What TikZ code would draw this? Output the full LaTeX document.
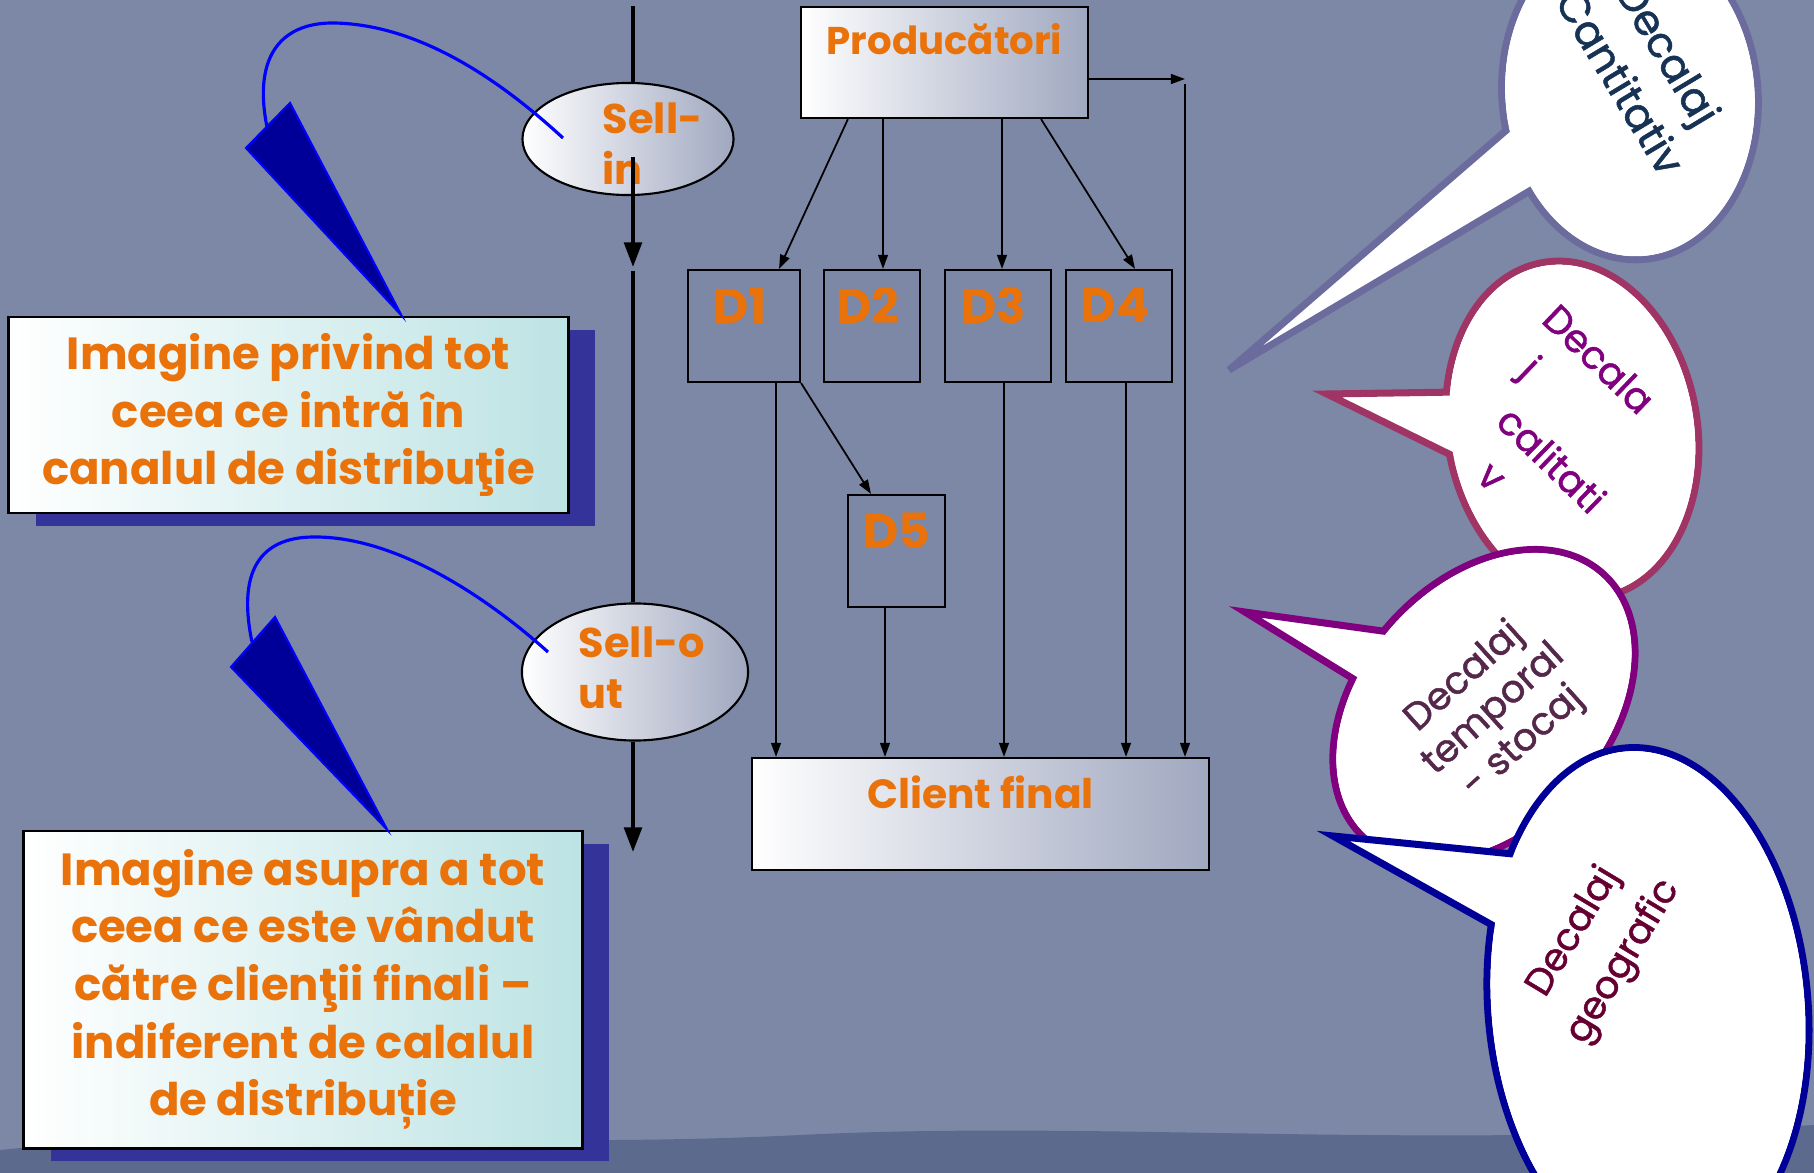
\documentclass[tikz,border=0pt]{standalone}
\usepackage{fontspec}
\setmainfont{Poppins}
\newfontfamily\bubfont{Poppins}[FakeBold=1.2]
\usetikzlibrary{positioning,calc,arrows.meta,shadows,shapes.geometric}

\definecolor{slate}{RGB}{124,136,165}
\definecolor{slatedark}{RGB}{78,94,132}
\definecolor{lblorange}{RGB}{234,114,10}
\definecolor{shadowblue}{RGB}{51,51,153}
\definecolor{boxcyan}{RGB}{189,227,228}
\definecolor{ovalgray}{RGB}{160,168,192}
\definecolor{wedgeblue}{RGB}{0,0,153}
\definecolor{bubA}{RGB}{107,107,158}
\definecolor{bubB}{RGB}{160,52,100}
\definecolor{bubC}{RGB}{128,0,128}
\definecolor{bubD}{RGB}{0,0,153}
\definecolor{txtA}{RGB}{22,50,85}
\definecolor{txtB}{RGB}{128,0,128}
\definecolor{txtC}{RGB}{85,40,75}
\definecolor{txtD}{RGB}{102,0,51}

\begin{document}
\begin{tikzpicture}[x=0.01cm,y=-0.01cm,
  lbl/.style={text=lblorange,font=\bfseries\fontsize{13.8}{16}\selectfont,inner sep=0pt},
  ovaltxt/.style={lbl,font=\bfseries\fontsize{11.8}{14.5}\selectfont,align=left,anchor=west},
  grbox/.style={draw,line width=0.6pt,left color=white,right color=ovalgray,inner sep=0pt},
  dbox/.style={draw,line width=0.6pt,inner sep=0pt,minimum height=1.12cm},
  oval/.style={ellipse,draw,line width=0.6pt,left color=white,right color=ovalgray,inner sep=0pt},
  notebox/.style={draw,line width=0.8pt,left color=white,right color=boxcyan,align=center,inner sep=0pt,
    text=lblorange,font=\bfseries\fontsize{12.8}{16.4}\selectfont,
    drop shadow={shadow xshift=0.27cm,shadow yshift=-0.13cm,fill=shadowblue,opacity=1}},
  mainln/.style={line width=1.1pt},
  bigtip/.style={-{Triangle[length=7pt,width=5pt]}},
  con/.style={line width=0.5pt,-{Triangle[length=4pt,width=2.8pt]}},
  wedge/.style={fill=wedgeblue,draw=blue,line width=0.6pt,line join=miter},
  curl/.style={blue,line width=0.9pt},
  bubble/.style={fill=white,line width=2pt},
  btxt/.style={font=\bubfont\fontsize{12}{16}\selectfont,align=center,inner sep=0pt}]

\useasboundingbox (0,0) rectangle (1814,1173);
\fill[slate] (0,0) rectangle (1814,1173);
\fill[slatedark,opacity=.7] (0,1173) -- (0,1150) .. controls (250,1125) and (500,1150) .. (800,1135)
  .. controls (1100,1120) and (1400,1150) .. (1814,1125) -- (1814,1173) -- cycle;
\clip (0,0) rectangle (1814,1173);

% notes on the left
\node[notebox,minimum width=5.59cm,minimum height=1.96cm] (note1) at (288.5,415)
  {Imagine privind tot\\ceea ce intră în\\canalul de distribuţie};
\node[notebox,minimum width=5.58cm,minimum height=3.17cm] (note2) at (303,989.5)
  {Imagine asupra a tot\\ceea ce este vândut\\către clienţii finali –\\indiferent de calalul\\de distribuție};

% sell-in / sell-out line
\node[oval,minimum width=2.11cm,minimum height=1.12cm] (sellin) at (628,139) {};
\node[oval,minimum width=2.26cm,minimum height=1.37cm] (sellout) at (635,672) {};
\node[ovaltxt] (sellintxt) at (602,144) {Sell-\\in};
\node[ovaltxt] (sellouttxt) at (578,668) {Sell-o\\ut};

\coordinate (topend) at (633,6);
\coordinate (instart) at (633,157);
\coordinate (midtip) at (633,267);
\coordinate (midstart) at (633,271);
\coordinate (bottip) at (633,852);
\draw[mainln] (topend) -- (topend |- sellin.north);
\draw[mainln,bigtip] (instart) -- (midtip);
\draw[mainln] (midstart) -- (midstart |- sellout.north);
\draw[mainln,bigtip] (bottip |- sellout.south) -- (bottip);

% pointers
\coordinate (w1a) at (246,148);
\coordinate (w1b) at (290,103);
\coordinate (w1hook) at (267,127);
\coordinate (w1end) at (563,138);
\filldraw[wedge] (w1a) -- (w1b) -- ([xshift=1.13cm]note1.north) -- cycle;
\draw[curl] (w1hook) .. controls (252,52) and (285,22) .. (335,23) .. controls (420,25) and (500,80) .. (w1end);

\coordinate (w2a) at (231,667);
\coordinate (w2b) at (275,617);
\coordinate (w2hook) at (252,642);
\coordinate (w2end) at (548,652);
\filldraw[wedge] (w2a) -- (w2b) -- ([xshift=0.84cm]note2.north) -- cycle;
\draw[curl] (w2hook) .. controls (236,565) and (265,536) .. (317,537) .. controls (400,538) and (490,600) .. (w2end);

% channel
\node[grbox,minimum width=2.87cm,minimum height=1.11cm] (prod) at (944.5,62.5) {};
\node[lbl,font=\bfseries\fontsize{11}{13}\selectfont,below=0.17cm of prod.north] (prodtxt) {Producători};
\foreach \n/\x/\w in {1/744/1.12, 2/872/0.96, 3/998/1.06, 4/1119/1.06} {
  \node[dbox,minimum width=\w cm] (d\n) at (\x,326) {};
  \node[lbl,below=0.18cm of d\n.north,xshift=-0.04cm] (d\n txt) {D\n};
}
\node[dbox,minimum width=0.97cm] (d5) at (896.5,551) {};
\node[lbl,below=0.18cm of d5.north] (d5txt) {D5};
\node[grbox,minimum width=4.57cm,minimum height=1.12cm] (client) at (980.5,814) {};
\node[lbl,font=\bfseries\fontsize{11.6}{13}\selectfont,below=0.18cm of client.north] (clienttxt) {Client final};

\draw[con] ([xshift=-0.965cm]prod.south) -- ([xshift=0.35cm]d1.north);
\draw[con] ([xshift=-0.615cm]prod.south) -- ([xshift=0.11cm]d2.north);
\draw[con] ([xshift=0.575cm]prod.south) -- ([xshift=0.04cm]d3.north);
\draw[con] ([xshift=0.965cm]prod.south) -- ([xshift=0.16cm]d4.north);
\coordinate (side) at (1185,79);
\draw[con] (prod.east |- side) -- (side);
\draw[con] ([yshift=-0.05cm]side) -- (side |- client.north);
\draw[con] ([xshift=0.32cm]d1.south) -- ([xshift=0.32cm]d1.south |- client.north);
\draw[con] (d1.south east) -- ([xshift=-0.255cm]d5.north);
\draw[con] ([xshift=-0.115cm]d5.south) -- ([xshift=-0.115cm]d5.south |- client.north);
\draw[con] ([xshift=0.06cm]d3.south) -- ([xshift=0.06cm]d3.south |- client.north);
\draw[con] ([xshift=0.07cm]d4.south) -- ([xshift=0.07cm]d4.south |- client.north);

% callouts on the right
\coordinate (c1) at (1630,95);
\coordinate (t1) at (1229,370);
\filldraw[bubble,draw=bubA,rotate around={5:(c1)}] (c1) ellipse [x radius=128,y radius=165];
\filldraw[bubble,draw=bubA] (t1) -- ($(t1)!1.35!(1517,121)$) -- ($(t1)!1.35!(1548,180)$) -- cycle;
\fill[white,rotate around={5:(c1)}] (c1) ellipse [x radius=124.5,y radius=161.5];
\node[btxt,text=txtA,rotate=-59] (b1txt) at (1645,67) {Decalaj\\Cantitativ};

\coordinate (c2) at (1572,430);
\coordinate (t2) at (1327,394);
\filldraw[bubble,draw=bubB,rotate around={10:(c2)}] (c2) ellipse [x radius=125,y radius=170];
\filldraw[bubble,draw=bubB] (t2) -- ($(t2)!1.4!(1458,392)$) -- ($(t2)!1.4!(1453,456)$) -- cycle;
\fill[white,rotate around={10:(c2)}] (c2) ellipse [x radius=121.5,y radius=166.5];
\node[btxt,text=txtB,rotate=-44,align=left,anchor=north west,font=\bubfont\fontsize{11}{15}\selectfont] (b2txt) at (1560,300)
  {Decala\\\hspace*{0.2cm}j\\\hspace*{0.38cm}calitati\\\hspace*{0.62cm}v};

\coordinate (c3) at (1484,706);
\coordinate (t3) at (1245,612);
\filldraw[bubble,draw=bubC,rotate around={48:(c3)}] (c3) ellipse [x radius=178,y radius=125];
\filldraw[bubble,draw=bubC] (t3) -- ($(t3)!1.4!(1404,634)$) -- ($(t3)!1.4!(1368,688)$) -- cycle;
\fill[white,rotate around={48:(c3)}] (c3) ellipse [x radius=174.5,y radius=121.5];
\node[btxt,text=txtC,rotate=42,font=\bubfont\fontsize{10.8}{12.5}\selectfont] (b3txt) at (1494,710) {Decalaj\\temporal\\- stocaj};

\coordinate (c4) at (1648,1007);
\coordinate (t4) at (1333,836);
\filldraw[bubble,draw=bubD,rotate around={5:(c4)}] (c4) ellipse [x radius=160,y radius=260];
\filldraw[bubble,draw=bubD] (t4) -- ($(t4)!1.4!(1503,853)$) -- ($(t4)!1.4!(1492,925)$) -- cycle;
\fill[white,rotate around={5:(c4)}] (c4) ellipse [x radius=156.5,y radius=256.5];
\node[btxt,text=txtD,rotate=59,font=\bubfont\fontsize{10.8}{16.5}\selectfont] (b4txt) at (1599,947) {Decalaj\\geografic};
\end{tikzpicture}
\end{document}
